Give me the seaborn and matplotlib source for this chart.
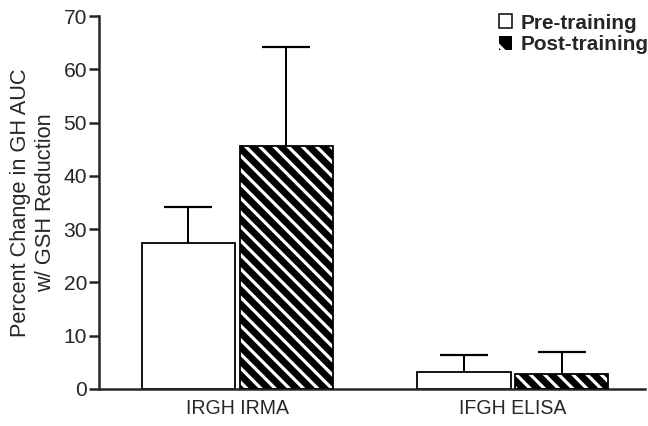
import matplotlib
matplotlib.use("Agg")
import matplotlib.pyplot as plt
import matplotlib.patches as mpatches
import pandas as pd
import seaborn as sns

# values
assays = ["IRGH IRMA", "IFGH ELISA"]
phases = ["Pre-training", "Post-training"]
pre_mean = [27.4, 3.1]
post_mean = [45.6, 2.8]
pre_sem = [6.8, 3.2]
post_sem = [18.7, 4.1]

df = pd.DataFrame({
    "assay": assays * 2,
    "phase": [phases[0]] * 2 + [phases[1]] * 2,
    "value": pre_mean + post_mean,
})
sems = {phases[0]: pre_sem, phases[1]: post_sem}

DPI = 85  # hatch spacing follows the dpi, so sizes below are given in pixels


def pt(px):
    return px * 72 / DPI


sns.set_theme(style="ticks")
plt.rcParams["font.family"] = ["Liberation Sans", "DejaVu Sans"]
plt.rcParams["hatch.linewidth"] = pt(3.2)

fig = plt.figure(figsize=(648 / DPI, 426 / DPI), dpi=DPI)
ax = fig.add_axes([0.153, 0.087, 0.843, 0.875])

sns.barplot(
    data=df, x="assay", y="value", hue="phase", order=assays, hue_order=phases,
    palette=["white", "black"], edgecolor="black", linewidth=pt(1.8),
    width=0.71, gap=0.05, errorbar=None, legend=False, ax=ax,
)

bar_sets = list(ax.containers)
for phase, container in zip(phases, bar_sets):
    xs = [p.get_x() + p.get_width() / 2 for p in container.patches]
    ys = [p.get_height() for p in container.patches]
    err = sems[phase]
    _, caps, _ = ax.errorbar(xs, ys, yerr=[[0] * len(err), err], fmt="none", ecolor="black",
                             elinewidth=pt(2), capsize=pt(24), capthick=pt(2.2), zorder=1)
    caps[0].set_visible(False)  # only the upper whisker is drawn
    for p in container.patches:
        if phase == phases[1]:
            p.set_facecolor("black")
            p.set_hatch("\\\\")
            p.set_edgecolor("white")
            p.set_linewidth(0)
            ax.add_patch(mpatches.Rectangle((p.get_x(), p.get_y()), p.get_width(), p.get_height(),
                                            fill=False, edgecolor="black", linewidth=pt(1.8), zorder=3))
        else:
            p.set_facecolor("white")

ax.set_xlim(-0.5, 1.48)
ax.set_ylim(0, 70)
ax.set_yticks(range(0, 71, 10))
ax.tick_params(axis="y", direction="out", length=pt(10), width=pt(2.5), labelsize=pt(21), pad=pt(2))
ax.tick_params(axis="x", length=0, labelsize=pt(19.5), pad=pt(10))
ax.set_xlabel("")
ax.set_ylabel("Percent Change in GH AUC\nw/ GSH Reduction", fontsize=pt(21.8), labelpad=pt(8),
              linespacing=1.25)
sns.despine(ax=ax)
for side in ["left", "bottom"]:
    ax.spines[side].set_linewidth(pt(2.5))

handles = [
    mpatches.Patch(facecolor="white", edgecolor="black", linewidth=pt(1.5), label=phases[0]),
    mpatches.Patch(facecolor="black", edgecolor="white", hatch="\\", linewidth=0, label=phases[1]),
]
fig.legend(handles=handles, loc="upper right", bbox_to_anchor=(1.030, 1.012), frameon=False,
           handlelength=0.65, handleheight=0.65, handletextpad=0.4, labelspacing=0.12,
           prop={"size": pt(20.8), "weight": "bold"})

fig.savefig("out.png", dpi=DPI)
